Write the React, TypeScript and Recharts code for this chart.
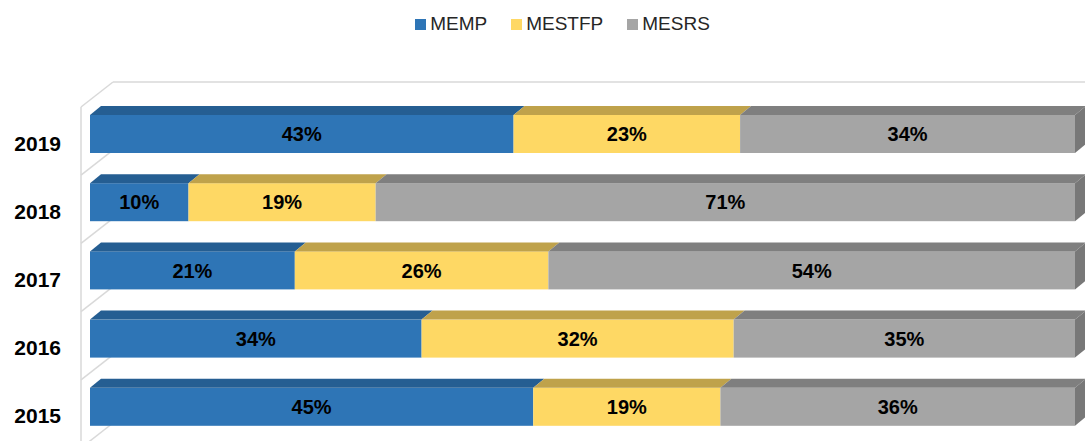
import React from 'react';
import * as R from 'recharts';
import { BarChart, Bar, XAxis, YAxis, Legend, Customized, LabelList } from 'recharts';

const years = ['2019', '2018', '2017', '2016', '2015'];
const memp = [43, 10, 21, 34, 45];
const mestfp = [23, 19, 26, 32, 19];
const mesrs = [34, 71, 54, 35, 36];

const seriesNames = ['MEMP', 'MESTFP', 'MESRS'];
const seriesValues = [memp, mestfp, mesrs];
const frontColors = ['#2E75B6', '#FED864', '#A5A5A5'];
const topColors = ['#255E92', '#BFA24B', '#7F7F7F'];
const sideColors = ['#235887', '#B39744', '#787878'];

const data = years.map((y, i) => ({ year: y, MEMP: memp[i], MESTFP: mestfp[i], MESRS: mesrs[i] }));

const DX = 11;
const DY = 9;
const FONT = '"Liberation Sans", Arial, sans-serif';

const makeShape = (idx: number, isLast: boolean) => (props: any) => {
  const { x, y, width, height } = props;
  if (width == null || height == null) return <g />;
  const x1 = x + width;
  return (
    <g>
      <rect x={x} y={y} width={width} height={height} fill={frontColors[idx]} />
      <polygon
        points={`${x},${y} ${x1},${y} ${x1 + DX},${y - DY} ${x + DX},${y - DY}`}
        fill={topColors[idx]}
      />
      {isLast && (
        <polygon
          points={`${x1},${y} ${x1 + DX},${y - DY} ${x1 + DX},${y + height - DY} ${x1},${y + height}`}
          fill={sideColors[idx]}
        />
      )}
    </g>
  );
};

const usePlotAreaSafe: () => any = (R as any).usePlotArea ?? (() => null);

const Walls = () => {
  const pa = usePlotAreaSafe();
  if (!pa) return null;
  const fx = pa.x - 9; // front-plane left
  const fy = pa.y + 7; // front-plane top
  const bdx = 32;
  const bdy = 25;
  const n = years.length;
  const band = pa.height / n;
  const stroke = '#D9D9D9';
  const lines: any[] = [];
  for (let k = 1; k <= n; k++) {
    const yb = fy + k * band;
    lines.push(<line key={k} x1={fx} y1={yb} x2={fx + bdx} y2={yb - bdy} stroke={stroke} strokeWidth={1.5} />);
  }
  return (
    <g>
      <line x1={fx} y1={fy} x2={fx} y2={pa.y + pa.height + 20} stroke={stroke} strokeWidth={1.5} />
      <line x1={fx} y1={fy} x2={fx + bdx} y2={fy - bdy} stroke={stroke} strokeWidth={1.5} />
      <line x1={fx + bdx} y1={fy - bdy} x2={1100} y2={fy - bdy} stroke={stroke} strokeWidth={1.5} />
      {lines}
    </g>
  );
};

const YearTick = (props: any) => {
  const { y, payload } = props;
  return (
    <text x={61} y={y + 9} dy="0.36em" textAnchor="end" fontFamily={FONT} fontWeight="bold" fontSize={21} fill="#000">
      {payload.value}
    </text>
  );
};

const makeLabel = (idx: number) => (props: any) => {
  const { x, y, width, height, index } = props;
  const v = seriesValues[idx][index];
  return (
    <text
      x={x + width / 2}
      y={y + height / 2}
      dy="0.36em"
      textAnchor="middle"
      fontFamily={FONT}
      fontWeight="bold"
      fontSize={20}
      fill="#000"
    >
      {`${v}%`}
    </text>
  );
};

const LegendContent = () => (
  <div
    style={{
      display: 'flex',
      justifyContent: 'center',
      alignItems: 'center',
      gap: 24,
      fontFamily: FONT,
      fontSize: 19,
      color: '#262626',
      height: 40,
      paddingLeft: 40,
    }}
  >
    {seriesNames.map((n, i) => (
      <div key={n} style={{ display: 'flex', alignItems: 'center' }}>
        <span style={{ display: 'inline-block', width: 11, height: 11, background: frontColors[i], marginRight: 4 }} />
        <span>{n}</span>
      </div>
    ))}
  </div>
);

export default function App() {
  return (
    <div style={{ position: 'absolute', left: 0, top: 0, background: '#fff' }}>
      <BarChart
        width={1085}
        height={441}
        data={data}
        layout="vertical"
        stackOffset="expand"
        barSize={38}
        margin={{ top: 60, right: 10, bottom: 0, left: 0 }}
      >
        <Customized component={Walls} />
        <XAxis type="number" hide domain={[0, 1]} />
        <YAxis type="category" dataKey="year" width={90} axisLine={false} tickLine={false} tick={<YearTick />} interval={0} />
        <Legend verticalAlign="top" height={40} wrapperStyle={{ top: 4, left: 0, width: 1085 }} content={<LegendContent />} />
        {seriesNames.map((n, i) => (
          <Bar
            key={n}
            dataKey={n}
            stackId="a"
            fill={frontColors[i]}
            isAnimationActive={false}
            shape={makeShape(i, i === seriesNames.length - 1)}
          >
            <LabelList dataKey={n} content={makeLabel(i)} />
          </Bar>
        ))}
      </BarChart>
    </div>
  );
}
